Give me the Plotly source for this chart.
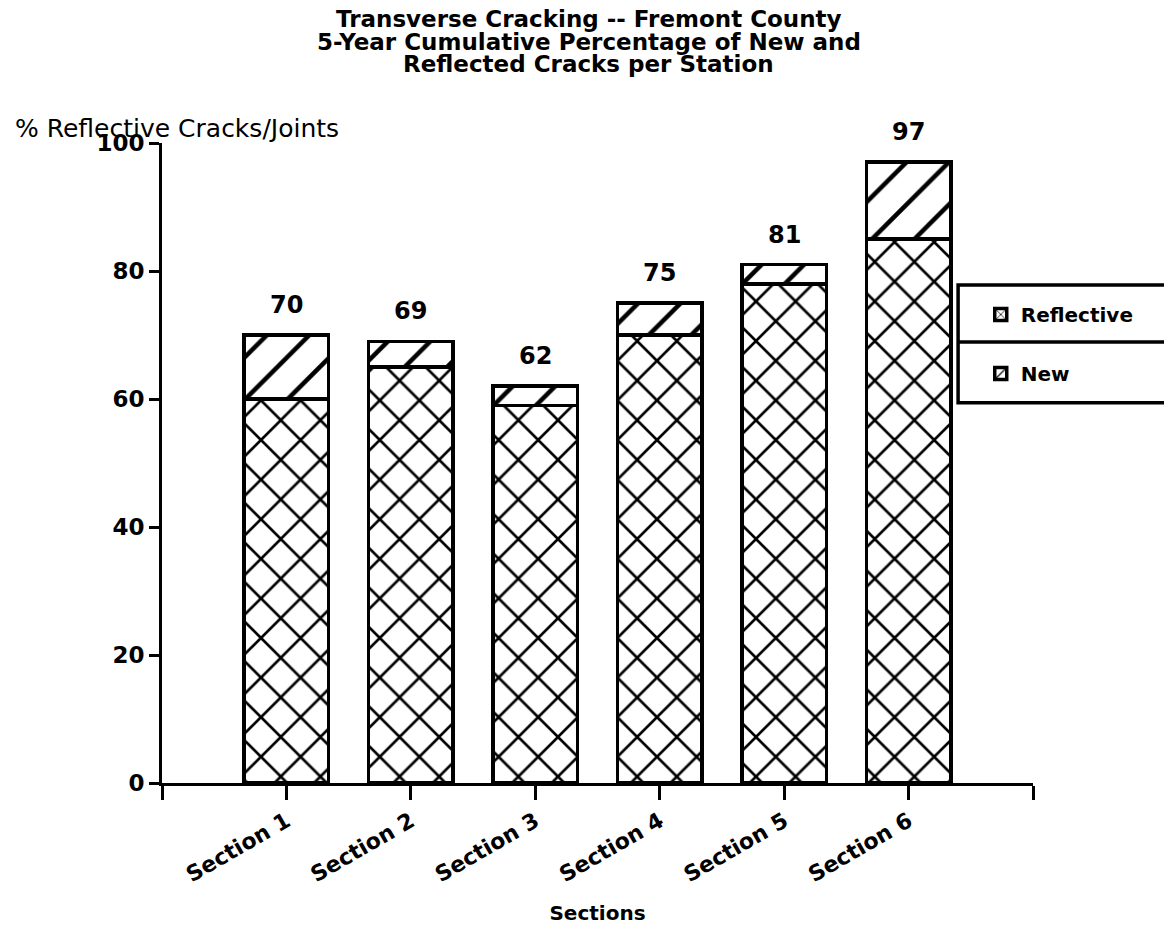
import plotly.graph_objects as go

sections = ["Section 1", "Section 2", "Section 3", "Section 4", "Section 5", "Section 6"]
reflective = [60, 65, 59, 70, 78, 85]
totals = [70, 69, 62, 75, 81, 97]
new = [t - r for t, r in zip(totals, reflective)]

FONT = "DejaVu Sans"
xs = list(range(len(sections)))

fig = go.Figure()
fig.add_trace(go.Bar(
    x=xs, y=reflective, name="Reflective", width=0.68,
    legendgroup="a",
    marker=dict(color="white", line=dict(color="black", width=3.5),
                pattern=dict(shape="x", fgcolor="black", bgcolor="white", fgopacity=1,
                             size=28, solidity=0.18, fillmode="replace")),
))
fig.add_trace(go.Bar(
    x=xs, y=new, name="New", width=0.68,
    legendgroup="b",
    marker=dict(color="white", line=dict(color="black", width=3.5),
                pattern=dict(shape="/", fgcolor="black", bgcolor="white", fgopacity=1,
                             size=30, solidity=0.15, fillmode="replace")),
))

for x, t in zip(xs, totals):
    fig.add_annotation(x=x, y=t, text=f"<b>{t}</b>", showarrow=False,
                       yanchor="bottom", yshift=14,
                       font=dict(family=FONT, size=24, color="black"))

titles = ["Transverse Cracking -- Fremont County",
          "5-Year Cumulative Percentage of New and",
          "Reflected Cracks per Station"]
for i, t in enumerate(titles):
    fig.add_annotation(xref="paper", yref="paper", x=0.49, y=1.0,
                       yshift=124 - i * 22.5, text=f"<b>{t}</b>", showarrow=False,
                       yanchor="middle", xanchor="center",
                       font=dict(family=FONT, size=23, color="black"))

fig.add_annotation(xref="paper", yref="paper", x=0, xshift=-149, y=1.0, yshift=15,
                   text="% Reflective Cracks/Joints", showarrow=False,
                   xanchor="left", yanchor="middle",
                   font=dict(family=FONT, size=25, color="black"))

fig.update_layout(
    width=1172, height=928,
    margin=dict(l=154, r=147, t=135, b=153, autoexpand=False),
    paper_bgcolor="white", plot_bgcolor="white",
    barmode="stack",
    font=dict(family=FONT, color="black"),
    xaxis=dict(
        range=[-1, len(sections)],
        tickvals=[-1] + xs + [len(sections)],
        ticktext=[""] + [f"<b>{s}</b>" for s in sections] + [""],
        tickangle=-30, ticks="outside", ticklen=14, tickwidth=3, tickcolor="black",
        showline=True, linecolor="black", linewidth=3, showgrid=False, zeroline=False,
        tickfont=dict(family=FONT, size=22, color="black"),
        title=dict(text="<b>Sections</b>", font=dict(family=FONT, size=20, color="black"), standoff=20),
    ),
    yaxis=dict(
        range=[0, 100], tickvals=[0, 20, 40, 60, 80, 100],
        ticktext=[f"<b>{v}</b>" for v in [0, 20, 40, 60, 80, 100]],
        ticks="outside", ticklen=10, tickwidth=3, tickcolor="black",
        showline=True, linecolor="black", linewidth=3, showgrid=False, zeroline=False,
        tickfont=dict(family=FONT, size=23, color="black"),
    ),
    legend=dict(
        x=0.94, y=0.7625, xanchor="left", yanchor="top",
        traceorder="grouped", tracegroupgap=30,
        borderwidth=0, bgcolor="rgba(0,0,0,0)",
        font=dict(family=FONT, size=20, color="black", weight="bold"),
    ),
    shapes=[
        dict(type="rect", xref="paper", yref="paper", x0=0.914, x1=1.25,
             y0=0.594, y1=0.778, line=dict(color="black", width=3.5), layer="below"),
        dict(type="line", xref="paper", yref="paper", x0=0.914, x1=1.25,
             y0=0.689, y1=0.689, line=dict(color="black", width=3.5)),
    ],
)

fig.write_html("out.html")
